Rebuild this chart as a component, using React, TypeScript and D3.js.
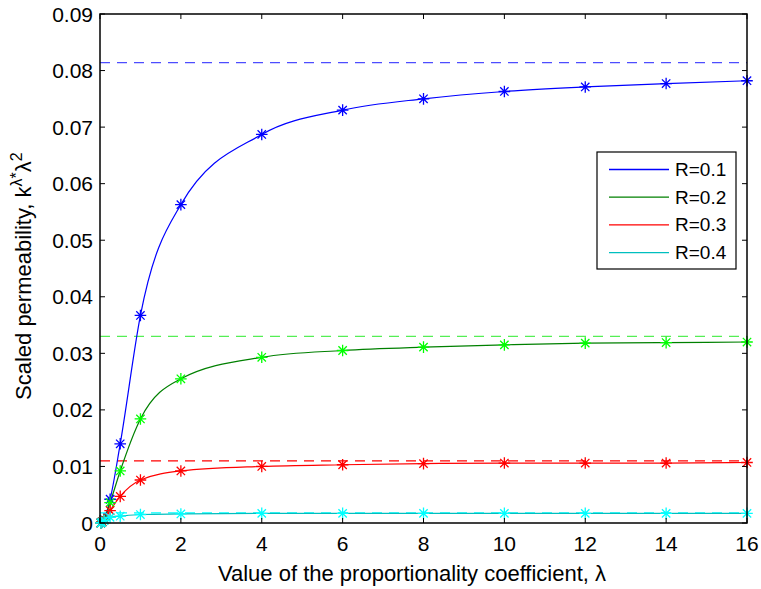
import React, { useRef, useEffect } from "react";
import * as d3 from "d3";

// lambda values where markers are drawn
const lambdas = [0.02, 0.05, 0.1, 0.25, 0.5, 1, 2, 4, 6, 8, 10, 12, 14, 16];

const blueR01 = [0.0, 0.0002, 0.0007, 0.0042, 0.014, 0.0367, 0.0563, 0.0687, 0.073, 0.075, 0.0763, 0.0771, 0.0777, 0.0782];
const greenR02 = [0.0, 0.0002, 0.0006, 0.0036, 0.0092, 0.0184, 0.0255, 0.0293, 0.0305, 0.0311, 0.0315, 0.0318, 0.0319, 0.032];
const redR03 = [0.0, 0.0002, 0.0005, 0.0022, 0.0047, 0.0076, 0.0092, 0.01, 0.0103, 0.0105, 0.0106, 0.0106, 0.0106, 0.0107];
const cyanR04 = [0.0, 0.0001, 0.0004, 0.001, 0.0012, 0.0015, 0.0016, 0.0017, 0.0017, 0.0017, 0.0017, 0.0017, 0.0017, 0.0017];

// asymptotic limits (dashed)
const limits = [0.0814, 0.033, 0.011, 0.0018];

const seriesNames = ["R=0.1", "R=0.2", "R=0.3", "R=0.4"];
const lineColors = ["#0000ff", "#008000", "#ff0000", "#00bfbf"];
const markColors = ["#0000ff", "#00ff00", "#ff0000", "#00ffff"];
const dashColors = ["#4d4dff", "#55ee55", "#ff0000", "#00ffff"];

const xTicks = [0, 2, 4, 6, 8, 10, 12, 14, 16];
const yTicks = [0, 0.01, 0.02, 0.03, 0.04, 0.05, 0.06, 0.07, 0.08, 0.09];

const App = () => {
  const svgRef = useRef(null);

  useEffect(() => {
    if (!svgRef.current) return;
    const width = 761;
    const height = 589;
    const margin = { top: 14, right: 14, bottom: 66, left: 100 };

    const svg = d3.select(svgRef.current).attr("width", width).attr("height", height);
    svg.selectAll("*").remove();

    const x = d3.scaleLinear().domain([0, 16]).range([margin.left, width - margin.right]);
    const y = d3.scaleLinear().domain([0, 0.09]).range([height - margin.bottom, margin.top]);

    const font = "Liberation Sans, Arial, sans-serif";
    const allSeries = [blueR01, greenR02, redR03, cyanR04];

    svg.append("rect")
      .attr("x", 0).attr("y", 0).attr("width", width).attr("height", height)
      .style("fill", "white");

    const plot = svg.append("g");

    // dashed limits
    limits.forEach((v, i) => {
      plot.append("line")
        .attr("x1", x(0)).attr("x2", x(16))
        .attr("y1", y(v)).attr("y2", y(v))
        .style("stroke", dashColors[i])
        .style("stroke-width", 1.2)
        .style("stroke-dasharray", "10,7");
    });

    const line = d3.line<number>()
      .x((d, i) => x(lambdas[i]))
      .y((d) => y(d))
      .curve(d3.curveMonotoneX);

    allSeries.forEach((vals, i) => {
      plot.append("path")
        .attr("d", line([0, ...vals.slice(1)]))
        .style("fill", "none")
        .style("stroke", lineColors[i])
        .style("stroke-width", 1.2);
    });

    // asterisk markers
    const r = 5.8;
    const rd = r * 0.72;
    allSeries.forEach((vals, i) => {
      const g = plot.selectAll(null)
        .data(vals)
        .enter()
        .append("g")
        .attr("transform", (d, j) => `translate(${x(lambdas[j])},${y(d)})`)
        .style("stroke", markColors[i])
        .style("stroke-width", 1.3);
      g.append("path").attr(
        "d",
        `M${-r},0H${r}M0,${-r}V${r}M${-rd},${-rd}L${rd},${rd}M${-rd},${rd}L${rd},${-rd}`
      );
    });

    // box
    const x0 = x(0), x1 = x(16), y0 = y(0), y1 = y(0.09);
    svg.append("rect")
      .attr("x", x0).attr("y", y1).attr("width", x1 - x0).attr("height", y0 - y1)
      .style("fill", "none").style("stroke", "black").style("stroke-width", 1.5);

    const tl = 5;
    xTicks.forEach((t) => {
      svg.append("line").attr("x1", x(t)).attr("x2", x(t)).attr("y1", y0).attr("y2", y0 - tl)
        .style("stroke", "black").style("stroke-width", 1);
      svg.append("line").attr("x1", x(t)).attr("x2", x(t)).attr("y1", y1).attr("y2", y1 + tl)
        .style("stroke", "black").style("stroke-width", 1);
      svg.append("text")
        .attr("x", x(t)).attr("y", y0 + 28)
        .attr("text-anchor", "middle")
        .style("font-family", font).style("font-size", "21px")
        .text(d3.format("d")(t));
    });
    yTicks.forEach((t) => {
      svg.append("line").attr("x1", x0).attr("x2", x0 + tl).attr("y1", y(t)).attr("y2", y(t))
        .style("stroke", "black").style("stroke-width", 1);
      svg.append("line").attr("x1", x1).attr("x2", x1 - tl).attr("y1", y(t)).attr("y2", y(t))
        .style("stroke", "black").style("stroke-width", 1);
      svg.append("text")
        .attr("x", x0 - 7).attr("y", y(t) + 7.5)
        .attr("text-anchor", "end")
        .style("font-family", font).style("font-size", "21px")
        .text(t === 0 ? "0" : d3.format(".2f")(t));
    });

    // axis labels
    svg.append("text")
      .attr("x", 412).attr("y", 581)
      .attr("text-anchor", "middle")
      .style("font-family", font).style("font-size", "22px")
      .text("Value of the proportionality coefficient, \u03bb");

    const yl = svg.append("text")
      .attr("transform", "translate(31,400) rotate(-90)")
      .attr("text-anchor", "start")
      .style("font-family", font).style("font-size", "22px");
    yl.append("tspan").text("Scaled permeability, k");
    yl.append("tspan").attr("dy", -9).style("font-size", "16px").text("\u03bb*");
    yl.append("tspan").attr("dy", 9).text("\u03bb");
    yl.append("tspan").attr("dy", -9).style("font-size", "16px").text("2");

    // legend
    const legend = svg.append("g");
    legend.append("rect")
      .attr("x", 597).attr("y", 152).attr("width", 139).attr("height", 117)
      .style("fill", "white").style("stroke", "black").style("stroke-width", 1.2);
    seriesNames.forEach((name, i) => {
      const ly = 169.5 + i * 27.7;
      legend.append("line")
        .attr("x1", 609).attr("x2", 669).attr("y1", ly).attr("y2", ly)
        .style("stroke", lineColors[i]).style("stroke-width", 1.3);
      legend.append("text")
        .attr("x", 675).attr("y", ly + 6.5)
        .style("font-family", font).style("font-size", "19px")
        .text(name);
    });
  }, []);

  return (
    <div style={{ position: "absolute", left: 0, top: 0 }}>
      <svg ref={svgRef} style={{ display: "block" }} />
    </div>
  );
};

export default App;
